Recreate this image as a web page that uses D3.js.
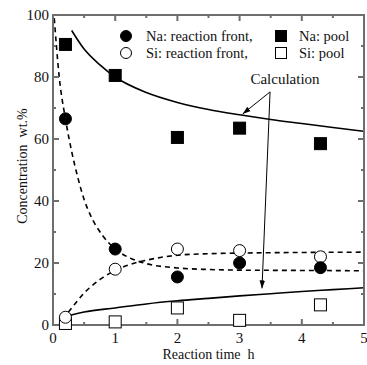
<!DOCTYPE html>
<html>
<head>
<meta charset="utf-8">
<script src="https://cdn.jsdelivr.net/npm/d3@7"></script>
<style>
    body { margin: 0; background: #fff; }
    svg text { font-family: "Liberation Serif", "DejaVu Serif", serif; fill: #111; }
</style>
</head>
<body>
<svg width="367" height="365" font-family="Liberation Serif, DejaVu Serif, serif"></svg>
<script>
// measured points
const times = [0.2, 1, 2, 3, 4.3];
const naFront = [66.5, 24.5, 15.5, 20, 18.5];
const naPool = [90.5, 80.5, 60.5, 63.5, 58.5];
const siFront = [2.5, 18, 24.5, 24, 22];
const siPool = [0.5, 1, 5.5, 1.5, 6.5];

// calculated curves
const naFrontCalcX = [0.02, 0.1, 0.2, 0.3, 0.4, 0.5, 0.6, 0.8, 1, 1.25, 1.5, 2, 2.5, 3, 4, 5];
const naFrontCalcY = [99, 80, 66.5, 56, 47.5, 40.5, 35.5, 28.8, 24.5, 21.5, 19.8, 18.4, 17.9, 17.7, 17.6, 17.5];
const siFrontCalcX = [0.15, 0.2, 0.3, 0.4, 0.5, 0.6, 0.8, 1, 1.25, 1.5, 2, 2.5, 3, 4, 5];
const siFrontCalcY = [2, 3, 5.5, 8, 10.3, 12.2, 15.3, 17.6, 19.6, 20.9, 22.5, 23, 23.2, 23.4, 23.5];
const naPoolCalcX = [0.3, 0.5, 0.75, 1, 1.5, 2, 2.5, 3, 3.5, 4, 4.5, 5];
const naPoolCalcY = [95, 89, 84, 80, 75, 71.8, 69.5, 67.8, 66.3, 65, 63.7, 62.5];
const siPoolCalcX = [0.2, 0.5, 1, 1.5, 2, 2.5, 3, 3.5, 4, 4.5, 5];
const siPoolCalcY = [2.8, 4.2, 5.5, 6.8, 7.8, 8.6, 9.4, 10.1, 10.8, 11.4, 12];

const xTicks = [0, 1, 2, 3, 4, 5];
const yTicks = [0, 20, 40, 60, 80, 100];

const svg = d3.select("svg");
const serif = "Liberation Serif, DejaVu Serif, serif";
const plotL = 53, plotR = 364, plotT = 15, plotB = 325;

const x = d3.scaleLinear().domain([0, 5]).range([plotL, plotR]);
const y = d3.scaleLinear().domain([0, 100]).range([plotB, plotT]);

// curves
const line = d3.line()
    .x(d => x(d[0]))
    .y(d => y(d[1]))
    .curve(d3.curveMonotoneX);

function drawCurve(xs, ys, dashed) {
    svg.append("path")
        .attr("d", line(xs.map((v, i) => [v, ys[i]])))
        .attr("fill", "none")
        .attr("stroke", "#000")
        .attr("stroke-width", 1.6)
        .attr("stroke-dasharray", dashed ? "5,4" : null);
}

drawCurve(naFrontCalcX, naFrontCalcY, true);
drawCurve(siFrontCalcX, siFrontCalcY, true);
drawCurve(naPoolCalcX, naPoolCalcY, false);
drawCurve(siPoolCalcX, siPoolCalcY, false);

// frame with inward ticks
const axisColor = "#6e6e6e";
const frame = svg.append("g").attr("stroke", axisColor).attr("stroke-width", 2);
frame.append("rect")
    .attr("x", plotL).attr("y", plotT)
    .attr("width", plotR - plotL).attr("height", plotB - plotT)
    .attr("fill", "none");

d3.range(0, 5.01, 0.5).forEach(t => {
    const len = Number.isInteger(t) ? 6 : 3;
    frame.append("line").attr("x1", x(t)).attr("x2", x(t)).attr("y1", plotB).attr("y2", plotB - len);
    frame.append("line").attr("x1", x(t)).attr("x2", x(t)).attr("y1", plotT).attr("y2", plotT + len);
});
d3.range(0, 100.1, 10).forEach(v => {
    const len = v % 20 === 0 ? 6 : 3;
    frame.append("line").attr("y1", y(v)).attr("y2", y(v)).attr("x1", plotL).attr("x2", plotL + len);
    frame.append("line").attr("y1", y(v)).attr("y2", y(v)).attr("x1", plotR).attr("x2", plotR - len);
});

// tick labels
svg.selectAll(".xl").data(xTicks).enter().append("text")
    .attr("font-family", serif)
    .attr("x", d => x(d))
    .attr("y", plotB + 18)
    .attr("text-anchor", "middle")
    .attr("font-size", 15)
    .text(d => d);

svg.selectAll(".yl").data(yTicks).enter().append("text")
    .attr("font-family", serif)
    .attr("x", plotL - 4)
    .attr("y", d => y(d) + 5)
    .attr("text-anchor", "end")
    .attr("font-size", 15)
    .text(d => d);

// axis titles
svg.append("text")
    .attr("font-family", serif)
    .attr("x", (plotL + plotR) / 2)
    .attr("y", 359)
    .attr("text-anchor", "middle")
    .attr("font-size", 14)
    .attr("xml:space", "preserve")
    .text("Reaction time  h");

svg.append("text")
    .attr("font-family", serif)
    .attr("transform", "translate(27,166) rotate(-90)")
    .attr("text-anchor", "middle")
    .attr("font-size", 14)
    .attr("xml:space", "preserve")
    .text("Concentration  wt.%");

// markers
function drawCircles(vals, filled) {
    svg.selectAll(null).data(times).enter().append("circle")
        .attr("cx", d => x(d))
        .attr("cy", (d, i) => y(vals[i]))
        .attr("r", 6)
        .attr("fill", filled ? "#000" : "#fff")
        .attr("stroke", "#000")
        .attr("stroke-width", 1);
}
function drawSquares(vals, filled) {
    svg.selectAll(null).data(times).enter().append("rect")
        .attr("x", d => x(d) - 6)
        .attr("y", (d, i) => y(vals[i]) - 6)
        .attr("width", 12)
        .attr("height", 12)
        .attr("fill", filled ? "#000" : "#fff")
        .attr("stroke", "#000")
        .attr("stroke-width", 1);
}
drawSquares(siPool, false);
drawSquares(naPool, true);
drawCircles(siFront, false);
drawCircles(naFront, true);

// legend
const legend = [
    { label: "Na: reaction front,", shape: "circle", filled: true, lx: 126, ly: 36 },
    { label: "Na: pool", shape: "square", filled: true, lx: 281, ly: 36 },
    { label: "Si: reaction front,", shape: "circle", filled: false, lx: 126, ly: 53 },
    { label: "Si: pool", shape: "square", filled: false, lx: 281, ly: 53 }
];
legend.forEach(d => {
    if (d.shape === "circle") {
        svg.append("circle").attr("cx", d.lx).attr("cy", d.ly).attr("r", 5.5)
            .attr("fill", d.filled ? "#000" : "#fff").attr("stroke", "#000");
    } else {
        svg.append("rect").attr("x", d.lx - 5.5).attr("y", d.ly - 5.5)
            .attr("width", 11).attr("height", 11)
            .attr("fill", d.filled ? "#000" : "#fff").attr("stroke", "#000");
    }
    svg.append("text")
        .attr("font-family", serif)
        .attr("x", d.lx + (d.shape === "circle" ? 20 : 18))
        .attr("y", d.ly + 5)
        .attr("font-size", 14.5)
        .text(d.label);
});

// annotation
svg.append("defs").append("marker")
    .attr("id", "arrow")
    .attr("viewBox", "0 0 10 10")
    .attr("refX", 10).attr("refY", 5)
    .attr("markerWidth", 8).attr("markerHeight", 8)
    .attr("orient", "auto")
    .append("path").attr("d", "M0,1.5 L10,5 L0,8.5 Z").attr("fill", "#000");

svg.append("text")
    .attr("font-family", serif)
    .attr("x", 285)
    .attr("y", 84)
    .attr("text-anchor", "middle")
    .attr("font-size", 15)
    .text("Calculation");

const origin = [3.49, 75.2];
[[3.05, 68.1], [3.36, 11.8]].forEach(tip => {
    svg.append("line")
        .attr("x1", x(origin[0])).attr("y1", y(origin[1]))
        .attr("x2", x(tip[0])).attr("y2", y(tip[1]))
        .attr("stroke", "#000").attr("stroke-width", 1)
        .attr("marker-end", "url(#arrow)");
});
</script>
</body>
</html>
